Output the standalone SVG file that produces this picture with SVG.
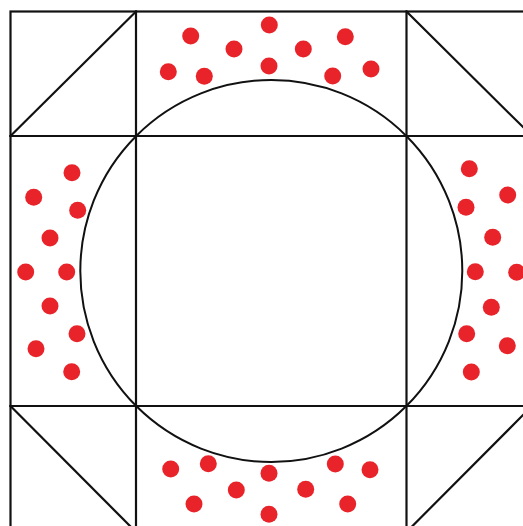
<svg xmlns="http://www.w3.org/2000/svg" width="523" height="526" viewBox="0 0 523 526">
<style>
.ln{stroke:#111;stroke-width:2.2;fill:none;stroke-linecap:square}
.c{stroke:#111;stroke-width:2;fill:none}
.d{fill:#e8242a}
</style>
<defs><circle id="dot" r="8.5" class="d"/></defs>
<rect width="523" height="526" fill="#fff"/>
<g id="grid">
<rect x="10.5" y="11.5" width="521.5" height="521" class="ln"/>
<line x1="136" y1="11.5" x2="136" y2="532" class="ln"/>
<line x1="406.5" y1="11.5" x2="406.5" y2="532" class="ln"/>
<line x1="10.5" y1="136" x2="532" y2="136" class="ln"/>
<line x1="10.5" y1="406" x2="532" y2="406" class="ln"/>
</g>
<g id="diagonals">
<line x1="10.5" y1="136" x2="136" y2="11.5" class="ln"/>
<line x1="406.5" y1="11.5" x2="532" y2="136" class="ln"/>
<line x1="10.5" y1="406" x2="136" y2="532" class="ln"/>
<line x1="406.5" y1="532" x2="532" y2="406" class="ln"/>
</g>
<g id="circle"><circle cx="271.3" cy="271" r="191" class="c"/></g>
<g id="dots-top">
<use href="#dot" x="190.7" y="36"/><use href="#dot" x="269.3" y="25"/><use href="#dot" x="345.3" y="36.7"/>
<use href="#dot" x="234" y="49"/><use href="#dot" x="303.3" y="49"/><use href="#dot" x="168.3" y="71.7"/>
<use href="#dot" x="204.3" y="76.3"/><use href="#dot" x="269" y="66"/><use href="#dot" x="332.7" y="76"/>
<use href="#dot" x="371" y="69"/>
</g>
<g id="dots-bottom">
<use href="#dot" x="170.7" y="469"/><use href="#dot" x="208.3" y="463.7"/><use href="#dot" x="269" y="473.3"/>
<use href="#dot" x="335.3" y="464"/><use href="#dot" x="370" y="469.7"/><use href="#dot" x="236.3" y="490"/>
<use href="#dot" x="305.7" y="489.3"/><use href="#dot" x="194" y="504"/><use href="#dot" x="347.7" y="504"/>
<use href="#dot" x="269" y="514.3"/>
</g>
<g id="dots-left">
<use href="#dot" x="72" y="172.7"/><use href="#dot" x="33.7" y="197.3"/><use href="#dot" x="77.7" y="210.3"/>
<use href="#dot" x="50" y="238"/><use href="#dot" x="25.7" y="272"/><use href="#dot" x="66.7" y="272"/>
<use href="#dot" x="50" y="306"/><use href="#dot" x="77" y="333.7"/><use href="#dot" x="36" y="348.7"/>
<use href="#dot" x="71.7" y="371.7"/>
</g>
<g id="dots-right">
<use href="#dot" x="469.3" y="168.7"/><use href="#dot" x="507.7" y="195"/><use href="#dot" x="466" y="207.3"/>
<use href="#dot" x="492.7" y="237.3"/><use href="#dot" x="475.3" y="271.7"/><use href="#dot" x="516.7" y="272.3"/>
<use href="#dot" x="491.3" y="307.3"/><use href="#dot" x="466.7" y="333.7"/><use href="#dot" x="507.3" y="345.7"/>
<use href="#dot" x="471.3" y="372"/>
</g>
</svg>
